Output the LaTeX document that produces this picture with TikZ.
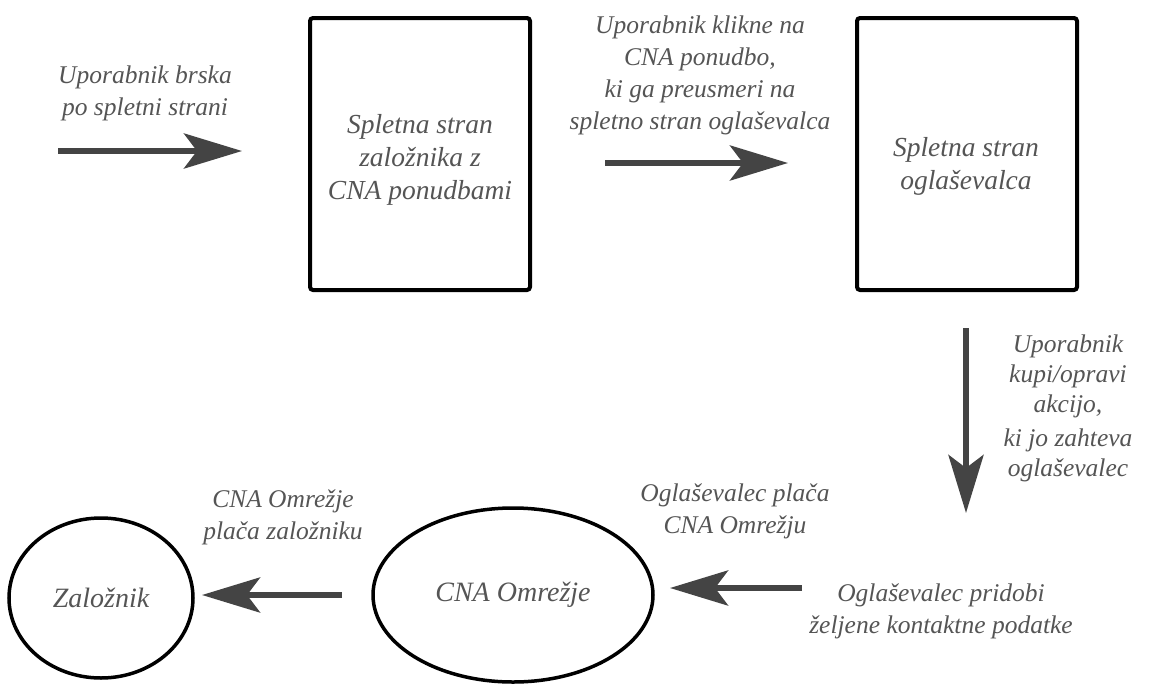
\documentclass[tikz,border=0pt]{standalone}
\usepackage{fontspec}
\setmainfont{Liberation Serif}
\usetikzlibrary{arrows.meta,shapes.geometric}
\definecolor{txtgray}{RGB}{85,85,85}
\definecolor{arrgray}{RGB}{68,68,68}
\begin{document}
\begin{tikzpicture}[x=1pt,y=-1pt,
  lbl/.style={text=txtgray,font=\itshape\fontsize{25.5}{32}\selectfont,align=center,inner sep=0pt},
  boxtxt/.style={text=txtgray,font=\itshape\fontsize{27.5}{33}\selectfont,align=center,inner sep=0pt},
  stepbox/.style={draw=black,line width=4pt,rounded corners=3pt,minimum width=220pt,minimum height=272pt,inner sep=0pt},
  ovalnode/.style={draw=black,line width=3.5pt,ellipse,inner sep=0pt,text=txtgray,font=\itshape\fontsize{28}{32}\selectfont},
  bigarrow/.style={draw=arrgray,line width=6pt,-{Stealth[length=58pt,width=35pt,inset=13pt]}}]
\useasboundingbox[fill=white] (0,0) rectangle (1154,683);
% boxes
\node[stepbox] (b1) at (420,154) {};
\node[boxtxt] (b1t) at (420,160) {Spletna stran\\založnika z\\CNA ponudbami};
\node[stepbox] (b2) at (967,154) {};
\node[boxtxt] (b2t) at (966,166) {Spletna stran\\oglaševalca};
% ellipses
\node[ovalnode,minimum width=184pt,minimum height=160pt] (zal) at (101,598) {Založnik};
\node[ovalnode,minimum width=280pt,minimum height=174pt] (cna) at (513,595) {CNA Omrežje};
% arrow coordinates
\coordinate (a1s) at (58,151);
\coordinate (a1e) at (242,151);
\coordinate (a2s) at (605,163);
\coordinate (a2e) at (788,163);
\coordinate (a3s) at (966,328);
\coordinate (a3e) at (966,513);
\coordinate (a4s) at (802,588);
\coordinate (a4e) at (670,588);
\coordinate (a5s) at (342,595);
\coordinate (a5e) at (202,595);
\draw[bigarrow] (a1s) -- (a1e);
\draw[bigarrow] (a2s) -- (a2e);
\draw[bigarrow] (a3s) -- (a3e);
\draw[bigarrow] (a4s) -- (a4e);
\draw[bigarrow] (a5s) -- (a5e);
% labels
\node[lbl] (l1) at (145,93) {Uporabnik brska\\po spletni strani};
\node[lbl] (l2) at (700,75) {Uporabnik klikne na\\CNA ponudbo,\\ki ga preusmeri na\\spletno stran oglaševalca};
\node[lbl,font=\itshape\fontsize{25.5}{30}\selectfont] (l3) at (1068,408) {Uporabnik\\kupi/opravi\\akcijo,\\[4pt]ki jo zahteva\\oglaševalec};
\node[lbl] (l4) at (941,611) {Oglaševalec pridobi\\željene kontaktne podatke};
\node[lbl] (l5) at (735,511) {Oglaševalec plača\\CNA Omrežju};
\node[lbl] (l6) at (283,517) {CNA Omrežje\\plača založniku};
\end{tikzpicture}
\end{document}
